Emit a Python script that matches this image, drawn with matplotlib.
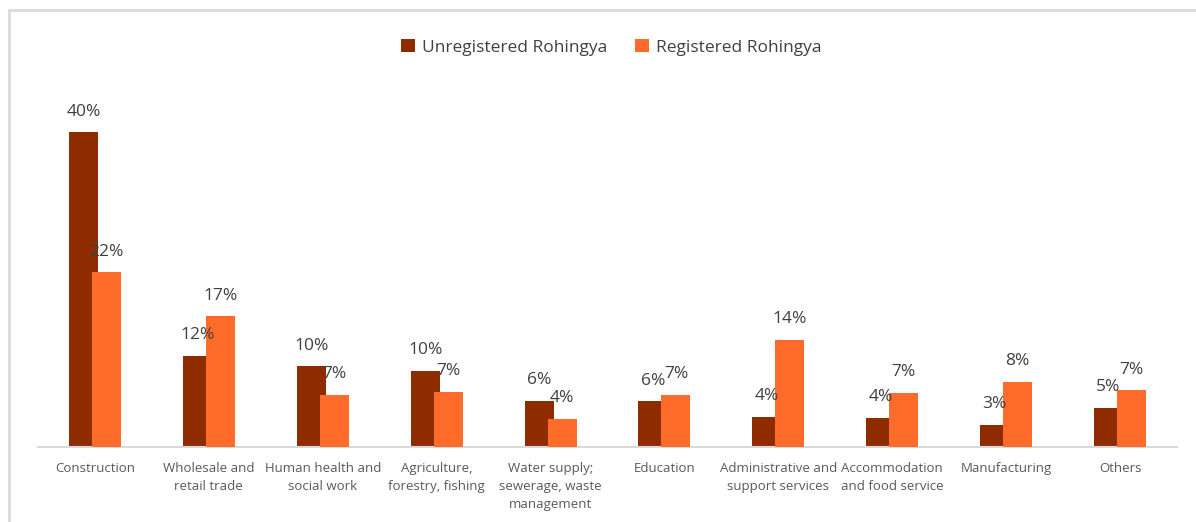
import numpy as np
import matplotlib
matplotlib.use("Agg")
import matplotlib.pyplot as plt
from matplotlib.patches import Rectangle

plt.rcParams['font.family'] = ['Open Sans', 'DejaVu Sans']

# data (percent)
categories = ['Construction', 'Wholesale and\nretail trade', 'Human health and\nsocial work',
              'Agriculture,\nforestry, fishing', 'Water supply;\nsewerage, waste\nmanagement',
              'Education', 'Administrative and\nsupport services', 'Accommodation\nand food service',
              'Manufacturing', 'Others']
unregistered = [40.0, 11.6, 10.25, 9.7, 5.9, 5.8, 3.8, 3.7, 2.8, 5.0]
registered = [22.2, 16.6, 6.6, 7.0, 3.6, 6.6, 13.6, 6.9, 8.3, 7.2]
series_names = ['Unregistered Rohingya', 'Registered Rohingya']

c_unreg = '#8E2C00'
c_reg = '#FF6B2A'

fig = plt.figure(figsize=(11.96, 5.22), dpi=100)
# light outer frame (cut off at right and bottom like the screenshot)
fig.patches.append(Rectangle((8.5/1196, -0.1), 1.2, (522-9.5)/522 + 0.1,
                             transform=fig.transFigure, fill=False,
                             edgecolor='#D9D9D9', lw=2))

ax = fig.add_axes([38/1196, 75/522, 1139/1196, 354/522])
x = np.arange(len(categories))
w = 0.255
off = 0.101
b1 = ax.bar(x - off, unregistered, w, color=c_unreg, label=series_names[0], zorder=2)
b2 = ax.bar(x + off, registered, w, color=c_reg, label=series_names[1], zorder=3)

for bars, vals in ((b1, unregistered), (b2, registered)):
    for b, v in zip(bars, vals):
        ax.annotate('%d%%' % round(v), (b.get_x() + b.get_width()/2, v),
                    xytext=(0, 15), textcoords='offset points',
                    ha='center', va='center', fontsize=12.5, color='#404040', zorder=4)

ax.set_xlim(-0.5, len(categories) - 0.5)
ax.set_ylim(0, 45)
ax.set_xticks(x)
ax.set_xticklabels(categories, fontsize=9.5, color='#595959', linespacing=1.5, va='top')
ax.tick_params(axis='x', length=0, pad=10.5)
ax.set_yticks([])
for s in ['top', 'right', 'left']:
    ax.spines[s].set_visible(False)
ax.spines['bottom'].set_color('#D9D9D9')
ax.spines['bottom'].set_linewidth(1.5)

fig.legend(loc='center', bbox_to_anchor=(611/1196, 1 - 47.5/522), ncol=2, frameon=False,
           fontsize=12.5, labelcolor='#404040', handlelength=0.8, handleheight=0.8,
           handletextpad=0.4, columnspacing=1.6)

fig.savefig('out.png', dpi=100)
